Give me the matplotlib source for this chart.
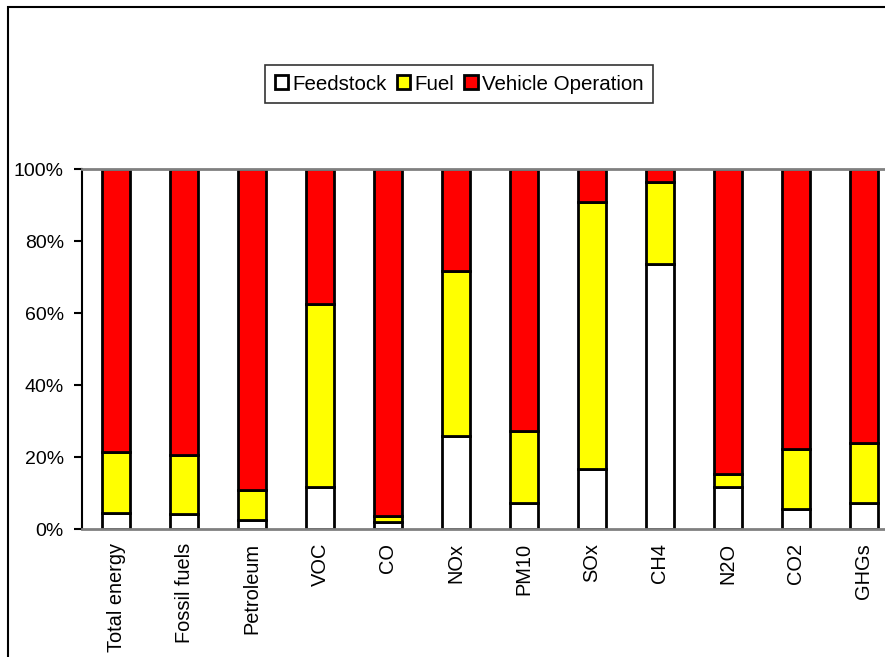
import matplotlib.pyplot as plt
from matplotlib.patches import Rectangle
import numpy as np

plt.rcParams['font.family'] = ['Liberation Sans', 'DejaVu Sans']

categories = ["Total energy", "Fossil fuels", "Petroleum", "VOC", "CO", "NOx",
              "PM10", "SOx", "CH4", "N2O", "CO2", "GHGs"]
feedstock = [4.4, 4.1, 2.5, 11.6, 1.9, 25.8, 7.1, 16.7, 73.5, 11.8, 5.6, 7.1]
fuel = [16.9, 16.4, 8.3, 50.9, 1.8, 45.9, 20.2, 74.0, 23.0, 3.5, 16.7, 16.9]
vehicle_operation = [78.7, 79.5, 89.2, 37.5, 96.3, 28.3, 72.7, 9.3, 3.5, 84.7, 77.7, 76.0]

W, H = 885, 657
fig = plt.figure(figsize=(W / 100, H / 100), dpi=100)
ax = fig.add_axes([82 / W, (H - 529) / H, 816 / W, 360 / H])

x = np.arange(len(categories))
bw = 0.4
edge = dict(edgecolor='black', linewidth=2)
b1 = ax.bar(x, feedstock, bw, color='white', label='Feedstock', **edge)
b2 = ax.bar(x, fuel, bw, bottom=feedstock, color='#ffff00', label='Fuel', **edge)
b3 = ax.bar(x, vehicle_operation, bw, bottom=np.add(feedstock, fuel),
            color='#ff0000', label='Vehicle Operation', **edge)

ax.set_xlim(-0.5, len(categories) - 0.5)
ax.set_ylim(0, 100)
ax.set_yticks(range(0, 101, 20))
ax.set_yticklabels([f"{v}%" for v in range(0, 101, 20)], fontsize=14)
ax.set_xticks(x)
ax.set_xticklabels(categories, rotation=90, fontsize=14.4)
ax.tick_params(axis='x', length=0, pad=10)
ax.tick_params(axis='y', length=6, width=1.5, direction='out', pad=7)

ax.spines['left'].set_color('black')
ax.spines['left'].set_linewidth(1.5)
ax.spines['bottom'].set_color('#808080')
ax.spines['bottom'].set_linewidth(2)
ax.spines['top'].set_color('#808080')
ax.spines['top'].set_linewidth(2)
ax.spines['right'].set_visible(False)

# chart area border
fig.patches.append(Rectangle((8 / W, -0.1), 1.2, (H - 7) / H + 0.1,
                             transform=fig.transFigure, fill=False,
                             edgecolor='black', linewidth=1.5))

leg = fig.legend(handles=[b1, b2, b3], loc='center', ncol=3,
                 bbox_to_anchor=(459 / W, (H - 84) / H), fontsize=14.8,
                 frameon=True, fancybox=False, edgecolor='black',
                 handlelength=0.65, handleheight=0.65, handletextpad=0.2,
                 columnspacing=0.5, borderpad=0.45, borderaxespad=0)
leg.get_frame().set_linewidth(1.2)

fig.savefig("out.png", dpi=100)
